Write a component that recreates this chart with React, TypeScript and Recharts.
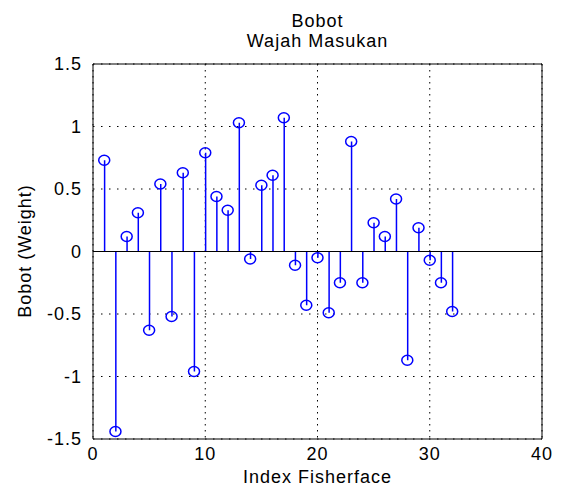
import { ComposedChart, Bar, Scatter, XAxis, YAxis, CartesianGrid, ReferenceLine } from "recharts";

// Fisherface index and the weight
const indices = [
  1, 2, 3, 4, 5, 6, 7, 8, 9, 10, 11, 12, 13, 14, 15, 16,
  17, 18, 19, 20, 21, 22, 23, 24, 25, 26, 27, 28, 29, 30, 31, 32,
];
const weights = [
  0.73, -1.44, 0.12, 0.31, -0.63, 0.54, -0.52, 0.63, -0.96, 0.79, 0.44, 0.33, 1.03, -0.06, 0.53, 0.61,
  1.07, -0.11, -0.43, -0.05, -0.49, -0.25, 0.88, -0.25, 0.23, 0.12, 0.42, -0.87, 0.19, -0.07, -0.25, -0.48,
];
const xTicks = [0, 10, 20, 30, 40];
const yTicks = [-1.5, -1, -0.5, 0, 0.5, 1, 1.5];

const titleLines = ["Bobot", "Wajah Masukan"];
const xLabel = "Index Fisherface";
const yLabel = "Bobot (Weight)";

const data = indices.map((idx, i) => ({ idx, w: weights[i] }));

const BLUE = "#0000ff";
const FONT = "'Liberation Sans', Arial, sans-serif";
const tickStyle = { fill: "#000", fontSize: 18, fontFamily: FONT, letterSpacing: 1 };

const Stem = (p: any) => {
  const cx = p.x + p.width / 2;
  return <line x1={cx} x2={cx} y1={p.y} y2={p.y + p.height} stroke={BLUE} strokeWidth={1.5} />;
};

const Ring = (p: any) => (
  <ellipse cx={p.cx} cy={p.cy} rx={5.5} ry={5} fill="none" stroke={BLUE} strokeWidth={1.5} />
);

export default function App() {
  return (
    <div style={{ position: "absolute", left: 0, top: 0, width: 563, height: 488, background: "#fff" }}>
      <div
        style={{
          position: "absolute",
          left: 93,
          width: 449,
          top: 11,
          textAlign: "center",
          fontFamily: FONT,
          fontSize: 18,
          letterSpacing: 1,
          lineHeight: "20px",
          color: "#000",
        }}
      >
        {titleLines.map((t) => (
          <div key={t}>{t}</div>
        ))}
      </div>
      <div
        style={{
          position: "absolute",
          left: 25,
          top: 251,
          transform: "translate(-50%, -50%) rotate(-90deg)",
          whiteSpace: "nowrap",
          fontFamily: FONT,
          fontSize: 18,
          letterSpacing: 1,
          color: "#000",
        }}
      >
        {yLabel}
      </div>
      <ComposedChart width={563} height={488} data={data} margin={{ top: 64, right: 21, bottom: 0, left: 0 }}>
        <CartesianGrid vertical={false} stroke="#000" strokeDasharray="1.5 6.5" />
        <CartesianGrid horizontal={false} stroke="#000" strokeDasharray="1.5 4.5" />
        <XAxis
          dataKey="idx"
          type="number"
          domain={[0, 40]}
          ticks={xTicks}
          allowDataOverflow
          height={49}
          tickLine={false}
          axisLine={{ stroke: "#000" }}
          tick={tickStyle}
          label={{ value: xLabel, position: "insideBottom", offset: 5, fill: "#000", fontSize: 18, fontFamily: FONT, letterSpacing: 1 }}
        />
        <YAxis
          type="number"
          domain={[-1.5, 1.5]}
          ticks={yTicks}
          allowDataOverflow
          width={93}
          tickLine={false}
          tickMargin={5}
          axisLine={{ stroke: "#000" }}
          tick={tickStyle}
        />
        <XAxis xAxisId="bottomIn" orientation="bottom" mirror type="number" domain={[0, 40]} ticks={xTicks} tick={false} tickSize={5} axisLine={false} tickLine={{ stroke: "#000" }} height={1} />
        <XAxis xAxisId="topIn" orientation="top" mirror type="number" domain={[0, 40]} ticks={xTicks} tick={false} tickSize={5} axisLine={{ stroke: "#000" }} tickLine={{ stroke: "#000" }} height={1} />
        <YAxis yAxisId="leftIn" orientation="left" mirror type="number" domain={[-1.5, 1.5]} ticks={yTicks} tick={false} tickSize={5} axisLine={false} tickLine={{ stroke: "#000" }} width={1} />
        <YAxis yAxisId="rightIn" orientation="right" mirror type="number" domain={[-1.5, 1.5]} ticks={yTicks} tick={false} tickSize={5} axisLine={{ stroke: "#000" }} tickLine={{ stroke: "#000" }} width={1} />
        <ReferenceLine y={0} stroke="#000" strokeWidth={1} />
        <Bar dataKey="w" barSize={2} shape={Stem} isAnimationActive={false} />
        <Scatter dataKey="w" shape={Ring} isAnimationActive={false} />
      </ComposedChart>
    </div>
  );
}
